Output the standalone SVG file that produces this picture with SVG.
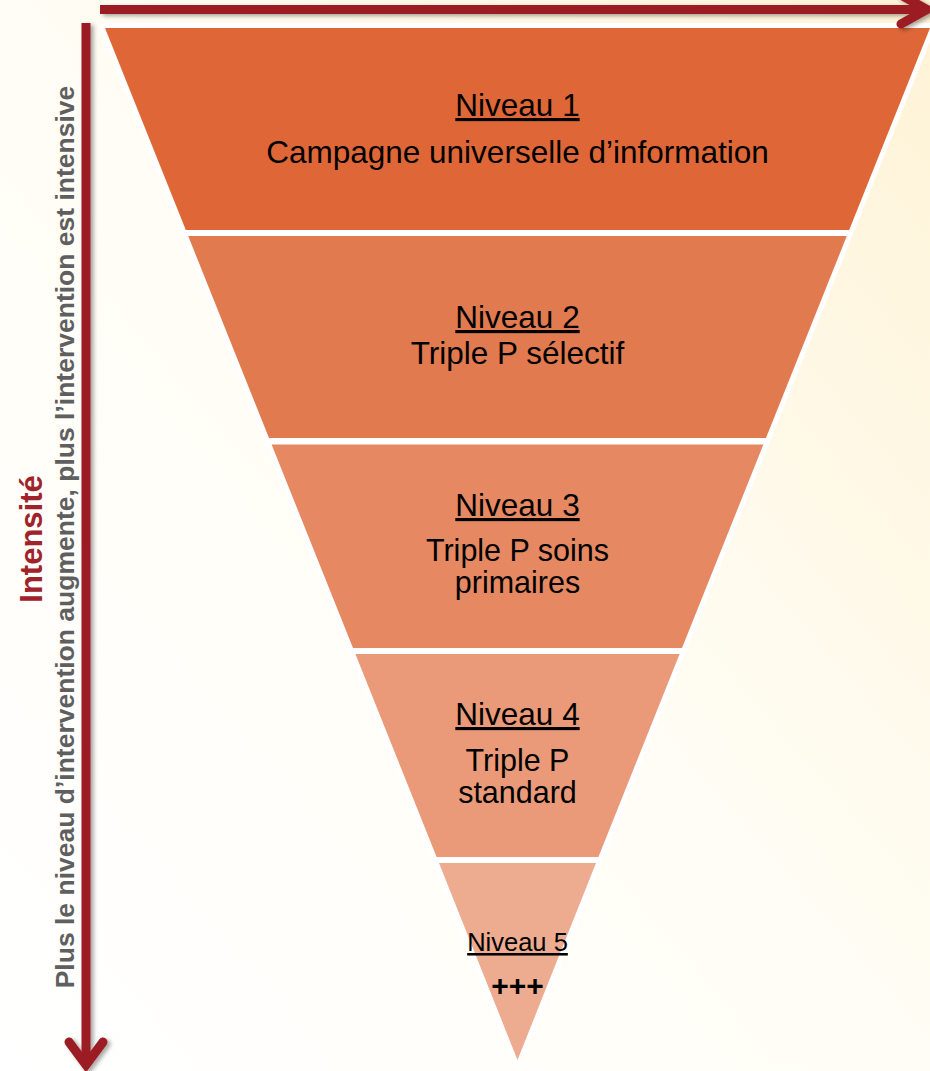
<svg xmlns="http://www.w3.org/2000/svg" width="930" height="1071" viewBox="0 0 930 1071">
  <defs>
    <linearGradient id="bg" x1="0" y1="1" x2="1" y2="0">
      <stop offset="0" stop-color="#FFFFFF"/>
      <stop offset="0.5" stop-color="#FFFDF5"/>
      <stop offset="1" stop-color="#FEF3D6"/>
    </linearGradient>
    <filter id="shadow" x="-20%" y="-20%" width="140%" height="140%">
      <feDropShadow dx="3" dy="2" stdDeviation="2" flood-color="#000" flood-opacity="0.35"/>
    </filter>
    <style>
      .lbl { font-family: "Liberation Sans", Arial, sans-serif; fill: #000; text-anchor: middle; }
      .n { font-size: 31.5px; text-decoration: underline; }
      .t { font-size: 31.5px; }
      .t2 { font-size: 30.5px; }
      .arrow { stroke: #9B1C22; stroke-width: 9; fill: none; }
    </style>
  </defs>
  <rect width="930" height="1071" fill="url(#bg)"/>

  <!-- white outline of the whole funnel -->
  <polygon points="105,28 930,28 517.5,1060" fill="#FFFFFF" stroke="#FFFFFF" stroke-width="10" stroke-linejoin="round"/>

  <g id="level1">
    <polygon points="105,28 930,28 849.2,230 185.8,230" fill="#DF6737"/>
    <text class="lbl n" x="517.5" y="116">Niveau 1</text>
    <text class="lbl t" x="517.5" y="163">Campagne universelle d’information</text>
  </g>
  <g id="level2">
    <polygon points="188.2,236 846.8,236 766,438 269,438" fill="#E27A4F"/>
    <text class="lbl n" x="517.5" y="328">Niveau 2</text>
    <text class="lbl t" x="517.5" y="364">Triple P sélectif</text>
  </g>
  <g id="level3">
    <polygon points="271.6,444.5 763.4,444.5 682,648 353,648" fill="#E68963"/>
    <text class="lbl n" x="517.5" y="516">Niveau 3</text>
    <text class="lbl t2" x="517.5" y="561">Triple P soins</text>
    <text class="lbl t2" x="517.5" y="593">primaires</text>
  </g>
  <g id="level4">
    <polygon points="355.4,654 679.6,654 598.4,857 436.6,857" fill="#EA9A78"/>
    <text class="lbl n" x="517.5" y="725">Niveau 4</text>
    <text class="lbl t2" x="517.5" y="771">Triple P</text>
    <text class="lbl t2" x="517.5" y="803">standard</text>
  </g>
  <g id="level5">
    <polygon points="439,863 596,863 517.5,1060" fill="#EDAB90"/>
    <text class="lbl" x="517.5" y="951" font-size="25.5" text-decoration="underline">Niveau 5</text>
    <text class="lbl" x="517.5" y="996" font-size="30" font-weight="bold">+++</text>
  </g>

  <g id="connectors" filter="url(#shadow)">
    <line class="arrow" x1="100" y1="9.5" x2="925" y2="9.5"/>
    <polyline class="arrow" points="901,-5 927,9.5 901,24" stroke-linecap="round" stroke-linejoin="miter"/>
    <line class="arrow" x1="86" y1="23" x2="86" y2="1062"/>
    <polyline class="arrow" points="69,1042 86,1065 103,1042" stroke-linecap="round" stroke-linejoin="miter"/>
  </g>

  <g id="axis-labels">
    <text transform="translate(42,539) rotate(-90)" text-anchor="middle" font-family="Liberation Sans, Arial, sans-serif" font-weight="bold" font-size="31" fill="#A0222A">Intensité</text>
    <text transform="translate(74,537) rotate(-90)" text-anchor="middle" font-family="Liberation Sans, Arial, sans-serif" font-weight="bold" font-size="26.5" fill="#5F5F5F">Plus le niveau d’intervention augmente, plus l’intervention est intensive</text>
  </g>
</svg>
